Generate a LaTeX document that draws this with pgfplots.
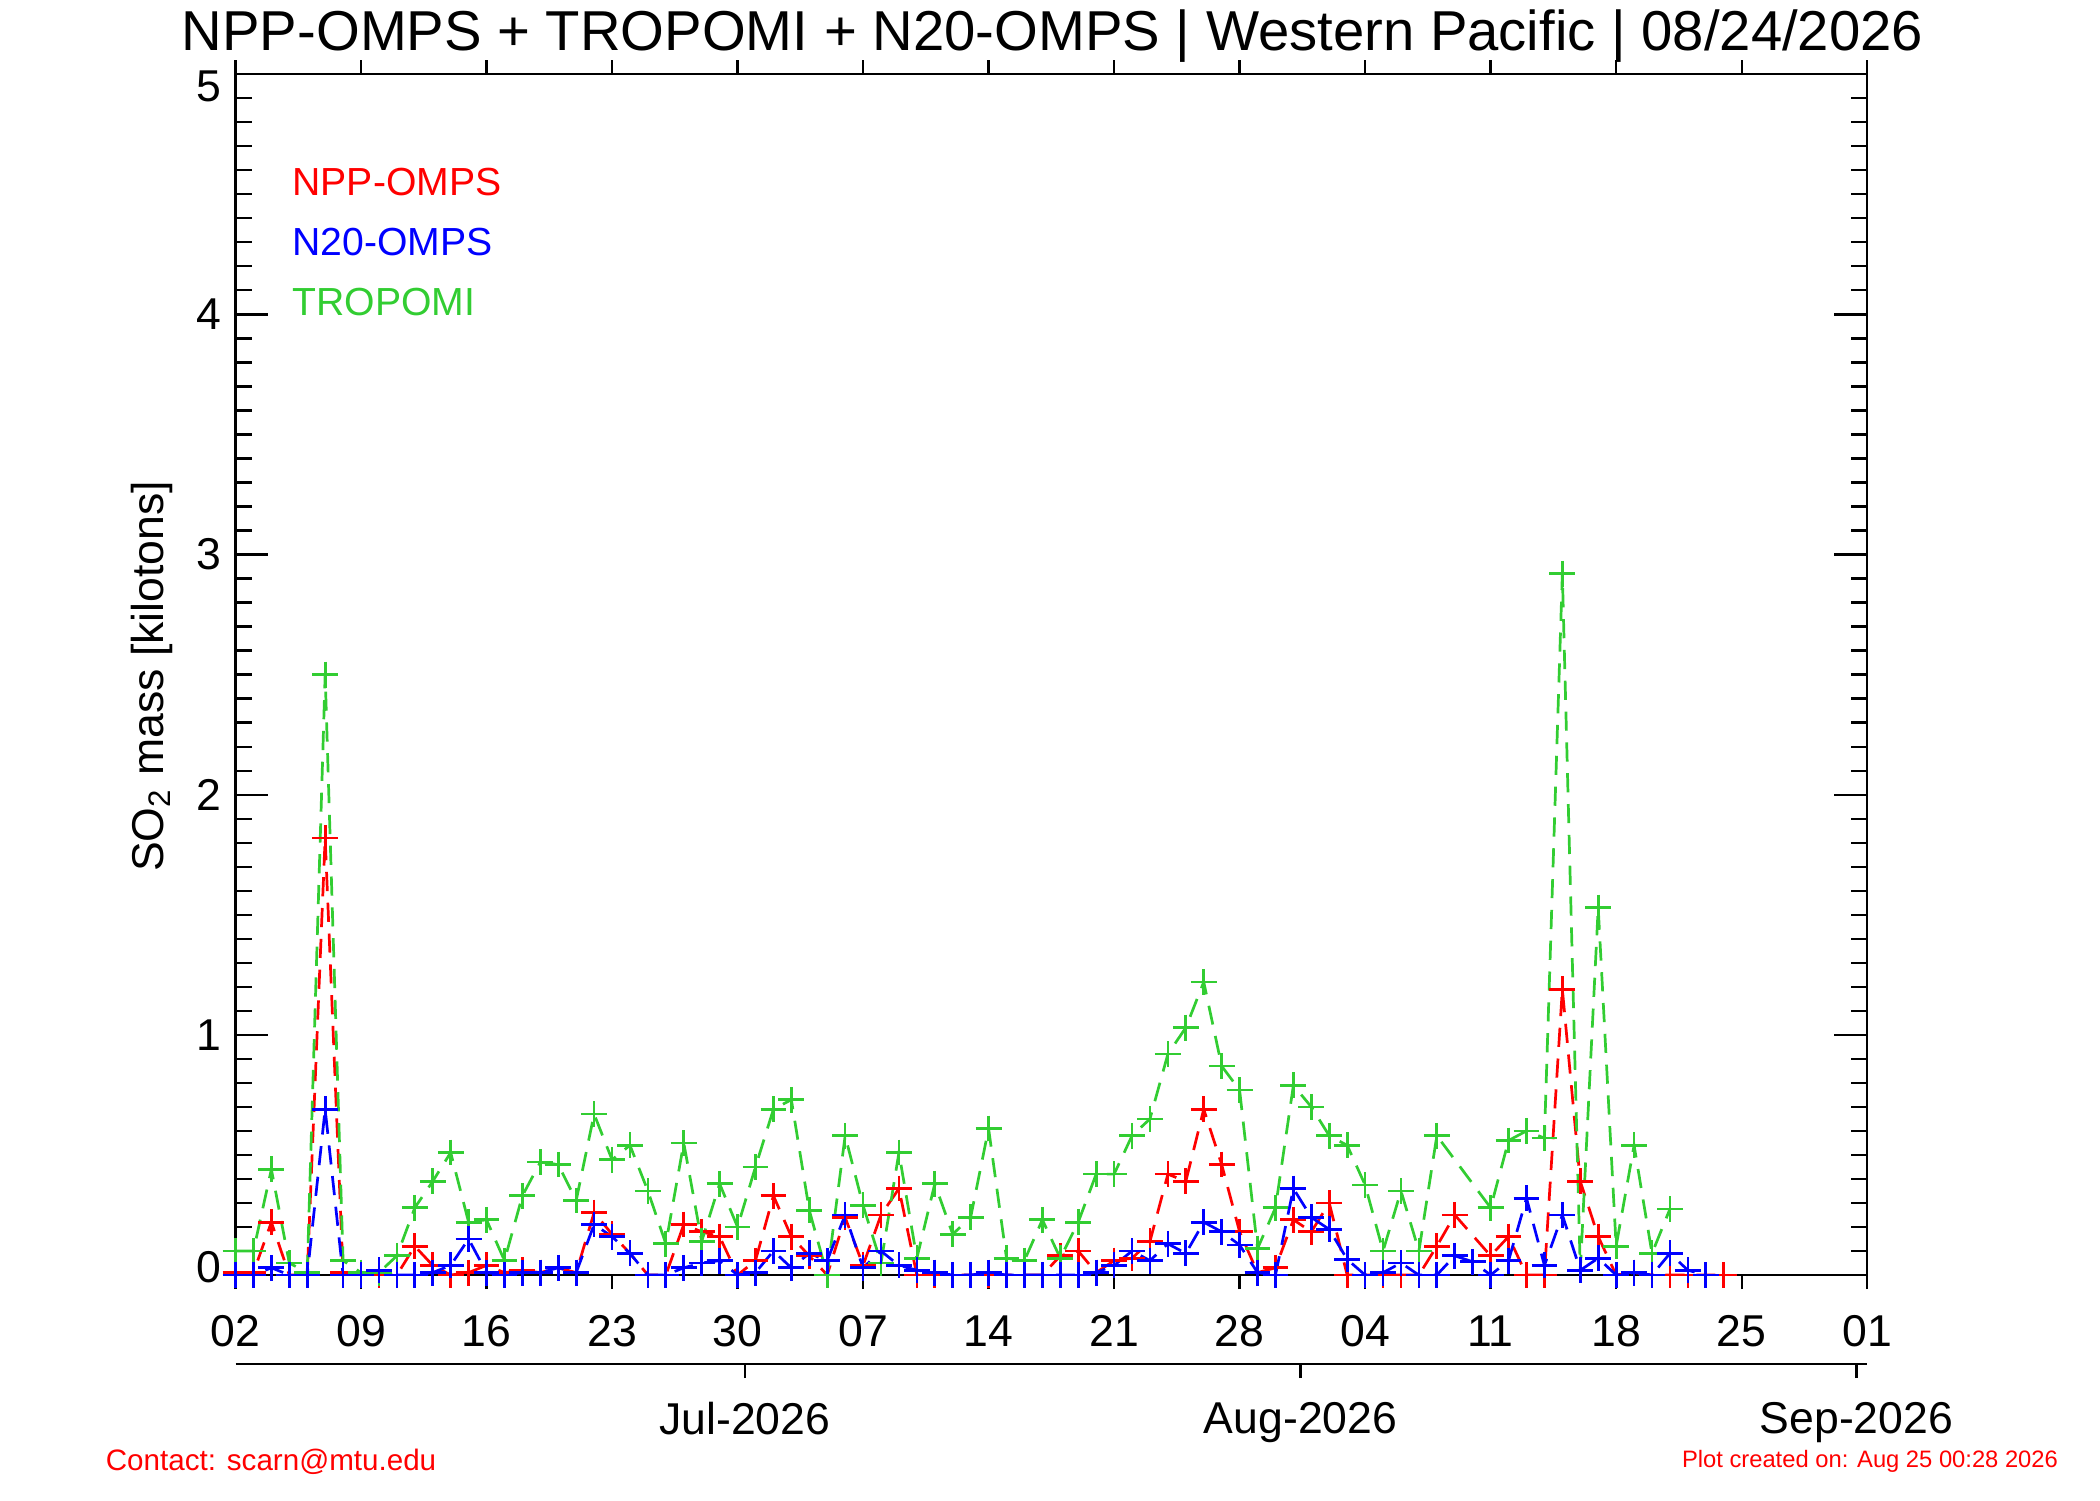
\documentclass[border=0pt]{standalone}
\usepackage{fontspec}
\setmainfont{Liberation Sans}
\usepackage{pgfplots}
\usepackage{pgfplotstable}
\pgfplotsset{compat=1.18}
\definecolor{tred}{RGB}{255,0,0}
\definecolor{tblue}{RGB}{0,0,255}
\definecolor{tgreen}{RGB}{50,205,50}

% day index: days since 02 Jun 2026
\pgfplotstableread{
d v
0 0.01
1 0.01
2 0.22
3 0.00
4 0.00
5 1.82
6 0.01
7 0.00
8 0.00
9 0.00
10 0.12
11 0.04
12 0.00
13 0.01
14 0.04
15 0.01
16 0.02
17 0.01
18 0.03
19 0.01
20 0.26
21 0.17
22 0.09
23 0.00
24 0.00
25 0.21
26 0.18
27 0.16
28 0.00
29 0.06
30 0.33
31 0.16
32 0.08
33 0.00
34 0.24
35 0.04
36 0.25
37 0.36
38 0.00
39 0.00
40 0.00
41 0.00
42 0.00
43 0.00
44 0.00
45 0.00
46 0.08
47 0.10
48 0.01
49 0.06
50 0.07
51 0.14
52 0.42
53 0.39
54 0.69
55 0.46
56 0.18
57 0.01
58 0.03
59 0.23
60 0.18
61 0.30
62 0.00
63 0.00
64 0.00
65 0.00
66 0.00
67 0.12
68 0.25
70 0.08
71 0.16
72 0.00
73 0.00
74 1.19
75 0.39
76 0.16
77 0.00
78 0.01
79 0.00
80 0.00
81 0.00
82 0.00
83 0.00
}\nppomps

\pgfplotstableread{
d v
0 0.10
1 0.10
2 0.44
3 0.05
4 0.01
5 2.50
6 0.06
7 0.01
8 0.01
9 0.08
10 0.28
11 0.39
12 0.51
13 0.22
14 0.23
15 0.06
16 0.33
17 0.47
18 0.46
19 0.31
20 0.67
21 0.48
22 0.54
23 0.35
24 0.13
25 0.55
26 0.14
27 0.38
28 0.20
29 0.45
30 0.69
31 0.73
32 0.27
33 0.00
34 0.58
35 0.29
36 0.05
37 0.51
38 0.07
39 0.38
40 0.17
41 0.24
42 0.61
43 0.07
44 0.06
45 0.23
46 0.07
47 0.22
48 0.42
49 0.42
50 0.58
51 0.65
52 0.92
53 1.03
54 1.22
55 0.87
56 0.77
57 0.11
58 0.28
59 0.79
60 0.70
61 0.58
62 0.54
63 0.375
64 0.10
65 0.35
66 0.10
67 0.58
70 0.28
71 0.56
72 0.60
73 0.57
74 2.92
75 0.02
76 1.53
77 0.12
78 0.54
79 0.09
80 0.275
}\tropomi

\pgfplotstableread{
d v
0 0.00
1 0.00
2 0.03
3 0.00
4 0.00
5 0.69
6 0.00
7 0.00
8 0.02
9 0.00
10 0.00
11 0.01
12 0.04
13 0.15
14 0.01
15 0.00
16 0.01
17 0.01
18 0.03
19 0.01
20 0.21
21 0.16
22 0.09
23 0.00
24 0.00
25 0.03
26 0.05
27 0.06
28 0.00
29 0.01
30 0.10
31 0.03
32 0.09
33 0.06
34 0.25
35 0.03
36 0.10
37 0.04
38 0.02
39 0.01
40 0.00
41 0.00
42 0.01
43 0.00
44 0.00
45 0.00
46 0.00
47 0.00
48 0.01
49 0.04
50 0.10
51 0.06
52 0.13
53 0.09
54 0.22
55 0.18
56 0.125
57 0.01
58 0.00
59 0.36
60 0.24
61 0.19
62 0.065
63 0.00
64 0.01
65 0.05
66 0.00
67 0.00
68 0.08
69 0.055
70 0.00
71 0.06
72 0.32
73 0.04
74 0.25
75 0.02
76 0.07
77 0.00
78 0.01
79 0.00
80 0.09
81 0.02
82 0.00
}\nomps

\pgfplotsset{
  frame/.style={at={(56.52pt,54pt)}, anchor=south west, scale only axis,
    width=391.6pt, height=288.2pt, xmin=0, xmax=91, ymin=0, ymax=5,
    axis line style={line width=0.55pt, black}},
  ser/.style={line width=0.65pt, dash pattern=on 4.6pt off 2.8pt,
    mark=+, mark size=3.1pt, mark options={solid, line width=0.65pt}},
}

\begin{document}
\begin{tikzpicture}[x=1pt,y=1pt]
\path[use as bounding box] (0,0) rectangle (504,360);

% y ticks (inside, both sides)
\begin{axis}[frame, xtick=\empty, ytick={0,1,2,3,4,5},
  yticklabels={\raisebox{1.8pt}[\height][\depth]{0},1,2,3,4,\raisebox{-2.9pt}[\height][\depth]{5}},
  minor y tick num=9, tick align=inside,
  major tick length=7.9pt, minor tick length=3.9pt,
  tick style={line width=0.55pt, black},
  ytick pos=both, yticklabel pos=left,
  yticklabel style={inner sep=0pt, font=\fontsize{10.7}{12}\selectfont},
  yticklabel shift=3.1pt]
\end{axis}

% x ticks (outside, both sides) + data
\begin{axis}[frame, ytick=\empty, xtick={0,7,...,91},
  xticklabels={02,09,16,23,30,07,14,21,28,04,11,18,25,01},
  tick align=outside, major tick length=3.4pt,
  tick style={line width=0.55pt, black},
  xtick pos=both, xticklabel pos=bottom,
  xticklabel style={inner sep=0pt, font=\fontsize{10.7}{12}\selectfont},
  xticklabel shift=6.2pt]
\addplot[ser, color=tred] table[x=d, y=v] {\nppomps};
\addplot[ser, color=tgreen] table[x=d, y=v] {\tropomi};
\addplot[ser, color=tblue] table[x=d, y=v] {\nomps};
\end{axis}

% month axis
\begin{axis}[at={(56.52pt,32.64pt)}, anchor=south west, scale only axis,
  width=391.6pt, height=10pt, xmin=0, xmax=91, ymin=0, ymax=1,
  axis x line*=bottom, axis y line=none, ytick=\empty,
  axis line style={line width=0.55pt, black, -},
  xtick={28.4,59.4,90.4}, xticklabels={Jul-2026,Aug-2026,Sep-2026},
  tick align=outside, major tick length=3.4pt,
  tick style={line width=0.55pt, black},
  xticklabel style={inner sep=0pt, font=\fontsize{10.7}{12}\selectfont},
  xticklabel shift=5.6pt]
\end{axis}

% title
\node[anchor=base, inner sep=0pt, font=\fontsize{13.5}{15}\selectfont] at (252.6,348)
  {NPP-OMPS + TROPOMI + N20-OMPS | Western Pacific | 08/24/2026};
% y label
\node[rotate=90, inner sep=0pt, font=\fontsize{10.7}{12}\selectfont] at (36.5,197.7)
  {SO\textsubscript{2} mass [kilotons]};
% legend
\node[anchor=base west, inner sep=0pt, text=tred, font=\fontsize{9.4}{11}\selectfont] at (70,313.2) {NPP-OMPS};
\node[anchor=base west, inner sep=0pt, text=tblue, font=\fontsize{9.4}{11}\selectfont] at (70,298.8) {N20-OMPS};
\node[anchor=base west, inner sep=0pt, text=tgreen, font=\fontsize{9.4}{11}\selectfont] at (70,284.4) {TROPOMI};
% footers
\node[anchor=base west, inner sep=0pt, text=tred, font=\fontsize{7.1}{9}\selectfont] at (25.2,7.2) {Contact: scarn@mtu.edu};
\node[anchor=base east, inner sep=0pt, text=tred, font=\fontsize{5.7}{7}\selectfont] at (494.1,7.7) {Plot created on: Aug 25 00:28 2026};
\end{tikzpicture}
\end{document}
